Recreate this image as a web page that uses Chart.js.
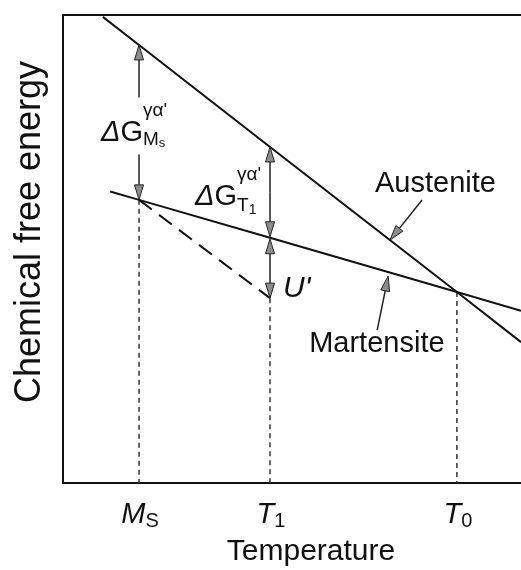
<!DOCTYPE html>
<html>
<head>
<meta charset="utf-8">
<script src="https://cdn.jsdelivr.net/npm/chart.js@4.4.1/dist/chart.umd.min.js"></script>
<style>
  html, body { margin: 0; padding: 0; background: #fff; overflow: hidden; }
  #wrap { width: 521px; height: 570px; position: relative; }
</style>
</head>
<body>
<div id="wrap"><canvas id="myChart"></canvas></div>
<script>
// temperature ticks (arbitrary units, 0..100)
let tickNames = ['M', 'T', 'T'];
let tickSubs = ['S', '1', '0'];
let tickTemps = [16.6, 45.2, 86.0]; // Ms, T1, T0

// free energy curves (arbitrary units, 0..100)
let austeniteT = [8.7, 16.6, 45.2, 86.0, 100];
let austeniteG = [99.6, 93.6, 71.8, 40.8, 30.1];
let martensiteT = [10.3, 16.6, 45.2, 86.0, 100];
let martensiteG = [62.3, 60.5, 52.4, 40.8, 36.8];

// metastable martensite path from Ms down to T1
let quenchT = [16.6, 45.2];
let quenchG = [60.5, 39.5];

function toPoints(xs, ys) {
    return xs.map(function(v, i) { return {x: v, y: ys[i]}; });
}

function dropLine(t, g) {
    return {
        data: [{x: t, y: g}, {x: t, y: 0}],
        borderColor: '#333',
        borderWidth: 1.5,
        borderDash: [5, 4],
        showLine: true,
        pointRadius: 0
    };
}

// shaft from (x1,y1) to the tip (x2,y2), grey head
function arrow(ctx, x1, y1, x2, y2) {
    let a = Math.atan2(y2 - y1, x2 - x1);
    let len = 15, hw = 4.5;
    let bx = x2 - Math.cos(a) * len, by = y2 - Math.sin(a) * len;
    ctx.save();
    ctx.strokeStyle = '#222';
    ctx.lineWidth = 1.5;
    ctx.beginPath();
    ctx.moveTo(x1, y1);
    ctx.lineTo(bx, by);
    ctx.stroke();
    ctx.beginPath();
    ctx.moveTo(x2, y2);
    ctx.lineTo(bx - Math.sin(a) * hw, by + Math.cos(a) * hw);
    ctx.lineTo(bx + Math.sin(a) * hw, by - Math.cos(a) * hw);
    ctx.closePath();
    ctx.fillStyle = '#8c8c8c';
    ctx.fill();
    ctx.lineWidth = 1;
    ctx.stroke();
    ctx.restore();
}

// parts: {t, f, dy, stay}  stay = don't advance x (for stacked sup/sub)
function rich(ctx, x, y, parts) {
    let cx = x;
    parts.forEach(function(p) {
        ctx.font = p.f;
        ctx.fillText(p.t, cx, y + (p.dy || 0));
        if (!p.stay) cx += ctx.measureText(p.t).width;
    });
    return cx - x;
}

function richWidth(ctx, parts) {
    let w = 0;
    parts.forEach(function(p) {
        ctx.font = p.f;
        if (!p.stay) w += ctx.measureText(p.t).width;
    });
    return w;
}

const FONT = '"Liberation Sans", Arial, sans-serif';

const annotate = {
    id: 'annotate',
    afterDatasetsDraw(chart) {
        const ctx = chart.ctx;
        const xs = chart.scales.x, ys = chart.scales.y;
        const px = function(v) { return xs.getPixelForValue(v); };
        const py = function(v) { return ys.getPixelForValue(v); };
        ctx.save();
        ctx.fillStyle = '#111';
        ctx.textBaseline = 'alphabetic';

        // Ms double arrow with label in the gap
        let xMs = px(tickTemps[0]);
        let yA = py(austeniteG[1]), yM = py(martensiteG[1]);
        let base = (yA + yM) / 2 + 19;
        arrow(ctx, xMs, base - 44, xMs, yA);
        arrow(ctx, xMs, base + 13, xMs, yM);
        rich(ctx, xMs - 38, base, [
            {t: 'Δ', f: 'italic 29px ' + FONT},
            {t: 'G', f: '29px ' + FONT},
            {t: 'γα\'', f: '19px ' + FONT, dy: -25, stay: true},
            {t: 'M', f: '19px ' + FONT, dy: 4},
            {t: 's', f: '13px ' + FONT, dy: 6}
        ]);

        // T1 arrows
        let xT1 = px(tickTemps[1]);
        let yA1 = py(austeniteG[2]), yM1 = py(martensiteG[2]), yQ1 = py(quenchG[1]);
        let mid = (yA1 + yM1) / 2;
        arrow(ctx, xT1, mid, xT1, yA1);
        arrow(ctx, xT1, mid, xT1, yM1 - 1);
        let mid2 = (yM1 + yQ1) / 2;
        arrow(ctx, xT1, mid2, xT1, yM1 + 1);
        arrow(ctx, xT1, mid2, xT1, yQ1);
        rich(ctx, xT1 - 75, mid + 13, [
            {t: 'Δ', f: 'italic 29px ' + FONT},
            {t: 'G', f: '29px ' + FONT},
            {t: 'γα\'', f: '19px ' + FONT, dy: -25, stay: true},
            {t: 'T', f: '19px ' + FONT, dy: 6},
            {t: '1', f: '14px ' + FONT, dy: 9}
        ]);
        ctx.font = 'italic 30px ' + FONT;
        ctx.fillText('U\'', xT1 + 13, yQ1 - 1);

        // Austenite pointer
        let tipA = {x: px(71.4), y: py(40.8 + (86.0 - 71.4) * 0.761)};
        arrow(ctx, tipA.x + 32, tipA.y - 40, tipA.x, tipA.y);
        ctx.font = '29px ' + FONT;
        ctx.fillText('Austenite', tipA.x - 15, tipA.y - 48);

        // Martensite pointer
        let tipM = {x: px(71.0), y: py(40.8 + (86.0 - 71.0) * 0.284) + 4};
        arrow(ctx, tipM.x - 11, tipM.y + 54, tipM.x, tipM.y);
        ctx.font = '29px ' + FONT;
        ctx.fillText('Martensite', tipM.x - 79, tipM.y + 76);

        // x tick labels
        for (let i = 0; i < tickTemps.length; i++) {
            let parts = [
                {t: tickNames[i], f: 'italic 29px ' + FONT},
                {t: tickSubs[i], f: '20px ' + FONT, dy: 4}
            ];
            let w = richWidth(ctx, parts);
            rich(ctx, px(tickTemps[i]) - w / 2 + 1, 523, parts);
        }

        // axis titles
        ctx.font = '30px ' + FONT;
        ctx.textAlign = 'center';
        ctx.fillText('Temperature', 311, 560);
        ctx.translate(40, 232);
        ctx.rotate(-Math.PI / 2);
        ctx.font = '36px ' + FONT;
        ctx.fillText('Chemical free energy', 0, 0);
        ctx.restore();
    }
};

let ctx = document.getElementById('myChart').getContext('2d');
let chart = new Chart(ctx, {
    type: 'scatter',
    data: {
        datasets: [
            {
                label: 'Austenite',
                data: toPoints(austeniteT, austeniteG),
                borderColor: '#111',
                borderWidth: 2,
                showLine: true,
                pointRadius: 0
            },
            {
                label: 'Martensite',
                data: toPoints(martensiteT, martensiteG),
                borderColor: '#111',
                borderWidth: 2,
                showLine: true,
                pointRadius: 0
            },
            {
                label: 'Quench',
                data: toPoints(quenchT, quenchG),
                borderColor: '#111',
                borderWidth: 2,
                borderDash: [16, 9],
                showLine: true,
                pointRadius: 0
            },
            dropLine(tickTemps[0], martensiteG[1]),
            dropLine(tickTemps[1], quenchG[1]),
            dropLine(tickTemps[2], austeniteG[3])
        ]
    },
    options: {
        responsive: true,
        maintainAspectRatio: false,
        animation: false,
        layout: { padding: { left: 63, top: 15, right: 0, bottom: 87 } },
        plugins: { legend: { display: false }, tooltip: { enabled: false } },
        scales: {
            x: {
                type: 'linear', position: 'bottom', min: 0, max: 100,
                ticks: { display: false },
                grid: { display: false, drawTicks: false },
                border: { display: true, color: '#111', width: 2 }
            },
            xTop: {
                type: 'linear', position: 'top', min: 0, max: 100,
                ticks: { display: false },
                grid: { display: false, drawTicks: false },
                border: { display: true, color: '#111', width: 2 }
            },
            y: {
                type: 'linear', min: 0, max: 100,
                ticks: { display: false },
                grid: { display: false, drawTicks: false },
                border: { display: true, color: '#111', width: 2 }
            }
        }
    },
    plugins: [annotate]
});
</script>
</body>
</html>
